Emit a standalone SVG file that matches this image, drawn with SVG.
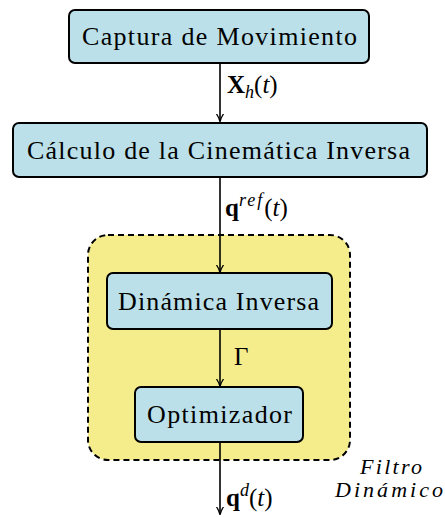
<svg xmlns="http://www.w3.org/2000/svg" width="445" height="517" viewBox="0 0 445 517">
<defs>
<marker id="ah" viewBox="0 0 10 10" refX="9" refY="5" markerWidth="8" markerHeight="8" markerUnits="userSpaceOnUse" orient="auto">
<path d="M0,0.5 Q5,4 10,5 Q5,6 0,9.5" fill="none" stroke="#000" stroke-width="1.6"/>
</marker>
</defs>
<g id="filtro">
<rect x="88" y="235" width="262" height="225" rx="20" fill="#f5ed8c" stroke="#000" stroke-width="2" stroke-dasharray="6,4"/>
<text font-family="Liberation Serif" font-style="italic" font-size="22" x="360" y="474" textLength="62">Filtro</text>
<text font-family="Liberation Serif" font-style="italic" font-size="22" x="335" y="497" textLength="108">Dinámico</text>
</g>
<g id="connectors" stroke="#000" stroke-width="1.6" fill="none">
<line x1="220" y1="63" x2="220" y2="121" marker-end="url(#ah)"/>
<line x1="220" y1="177" x2="220" y2="272" marker-end="url(#ah)"/>
<line x1="220" y1="329" x2="220" y2="386" marker-end="url(#ah)"/>
<line x1="220" y1="442" x2="220" y2="514" marker-end="url(#ah)"/>
</g>
<g id="labels" fill="#000">
<text font-family="Liberation Serif" font-size="25" x="227" y="93"><tspan font-weight="bold">X</tspan><tspan font-style="italic" font-size="18" dy="5">h</tspan><tspan dy="-5">(</tspan><tspan font-style="italic">t</tspan>)</text>
<text font-family="Liberation Serif" font-size="25" x="225" y="216"><tspan font-weight="bold">q</tspan><tspan font-style="italic" font-size="18" dy="-10" letter-spacing="2">ref</tspan><tspan dy="10">(</tspan><tspan font-style="italic">t</tspan>)</text>
<text font-family="Liberation Serif" font-size="25" x="234" y="365">Γ</text>
<text font-family="Liberation Serif" font-size="25" x="226" y="506"><tspan font-weight="bold">q</tspan><tspan font-style="italic" font-size="18" dy="-10">d</tspan><tspan dy="10">(</tspan><tspan font-style="italic">t</tspan>)</text>
</g>
<g id="captura">
<rect x="69" y="10" width="300" height="53" rx="6" fill="#bbe0e9" stroke="#000" stroke-width="2"/>
<text font-family="Liberation Serif" font-size="26" x="82" y="45" textLength="275">Captura de Movimiento</text>
</g>
<g id="calculo">
<rect x="13" y="123" width="414" height="54" rx="6" fill="#bbe0e9" stroke="#000" stroke-width="2"/>
<text font-family="Liberation Serif" font-size="26" x="27" y="159" textLength="383">Cálculo de la Cinemática Inversa</text>
</g>
<g id="dinamica">
<rect x="107" y="273" width="225" height="56" rx="6" fill="#bbe0e9" stroke="#000" stroke-width="2"/>
<text font-family="Liberation Serif" font-size="26" x="118" y="310" textLength="201">Dinámica Inversa</text>
</g>
<g id="optimizador">
<rect x="135" y="387" width="168" height="55" rx="6" fill="#bbe0e9" stroke="#000" stroke-width="2"/>
<text font-family="Liberation Serif" font-size="26" x="147" y="423" textLength="145">Optimizador</text>
</g>
</svg>
